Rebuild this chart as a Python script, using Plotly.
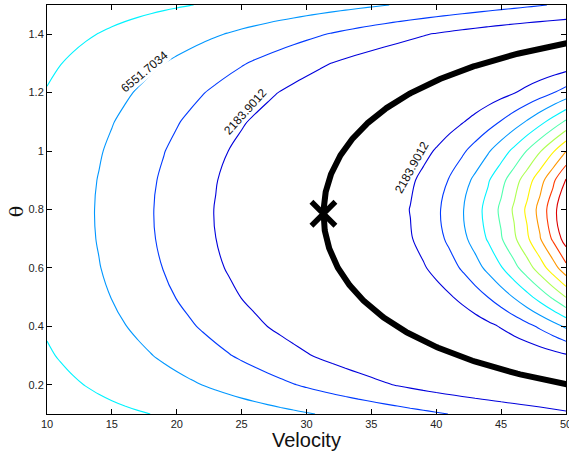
import numpy as np
import plotly.graph_objects as go

# ---- data ----
velocity = np.arange(10.0, 50.0 + 0.5, 1.0)          # grid of launch speeds
theta = np.round(np.arange(0.1, 1.5 + 0.05, 0.1), 2)  # grid of launch angles (rad)
gravity = 9.8
target_range = 100.0
level_step = 2183.90113
n_levels = 10
x_ticks = [10, 15, 20, 25, 30, 35, 40, 45, 50]
y_ticks = [0.2, 0.4, 0.6, 0.8, 1.0, 1.2, 1.4]
label_texts = ["6551.7034", "2183.9012", "2183.9012"]
label_v = [17.48, 25.26, 38.13]
label_theta = [1.271, 1.134, 0.946]
label_angle = [-40, -48, -61]

# squared range error on the grid
Z = (np.outer(np.sin(2 * theta), velocity ** 2) / gravity - target_range) ** 2

# exact solutions curve (range == target)
theta_fine = np.linspace(0.1, 1.5, 600)
v_fine = np.sqrt(target_range * gravity / np.sin(2 * theta_fine))
opt_v = np.sqrt(target_range * gravity)
opt_theta = np.pi / 4


def jet(f):
    pts = [(0, (0, 0, .5)), (.125, (0, 0, 1)), (.375, (0, 1, 1)),
           (.625, (1, 1, 0)), (.875, (1, 0, 0)), (1, (.5, 0, 0))]
    for (a, ca), (b, cb) in zip(pts[:-1], pts[1:]):
        if a <= f <= b:
            t = (f - a) / (b - a)
            c = [ca[i] + t * (cb[i] - ca[i]) for i in range(3)]
            return "rgb(%d,%d,%d)" % tuple(round(255 * x) for x in c)
    return "rgb(128,0,0)"


cscale = [[(k - 1) / (n_levels - 1), jet(k / (n_levels + 1))] for k in range(1, n_levels + 1)]

fig = go.Figure()
fig.add_trace(go.Contour(
    x=velocity, y=theta, z=Z,
    contours=dict(start=level_step, end=level_step * n_levels, size=level_step,
                  coloring="lines", showlabels=False),
    line=dict(width=1.1),
    colorscale=cscale, showscale=False, hoverinfo="skip",
))
fig.add_trace(go.Scatter(x=v_fine, y=theta_fine, mode="lines",
                         line=dict(color="black", width=6), hoverinfo="skip"))
fig.add_trace(go.Scatter(x=[opt_v], y=[opt_theta], mode="markers",
                         marker=dict(symbol="x-thin", size=24, color="black",
                                     line=dict(color="black", width=5.5))))

for t, v, th, a in zip(label_texts, label_v, label_theta, label_angle):
    fig.add_annotation(x=v, y=th, text=t, showarrow=False, textangle=a,
                       font=dict(family="Liberation Sans, Arial", size=12, color="#111"),
                       bgcolor="white", borderpad=0)

fig.add_annotation(x=0.5, y=-0.033, xref="paper", yref="paper", text="Velocity",
                   showarrow=False, yanchor="top",
                   font=dict(family="Liberation Sans, Arial", size=20, color="#111"))
fig.add_annotation(x=-0.084, y=0.494, xref="paper", yref="paper", text="θ",
                   showarrow=False, textangle=-90,
                   font=dict(family="DejaVu Serif, Liberation Serif", size=19, color="#111"))

axis_common = dict(showgrid=False, zeroline=False, showline=True, linecolor="black",
                   linewidth=1, mirror="ticks", ticks="inside", ticklen=5,
                   tickcolor="black", tickwidth=1, automargin=False,
                   ticklabeloverflow="allow",
                   tickfont=dict(family="Liberation Sans, Arial", size=11, color="#222"))
fig.update_xaxes(range=[10, 50], tickvals=x_ticks, ticktext=[str(v) for v in x_ticks],
                 **axis_common)
fig.update_yaxes(range=[0.1, 1.5], tickvals=y_ticks,
                 ticktext=["0.2", "0.4", "0.6", "0.8", "1", "1.2", "1.4"], **axis_common)
fig.update_layout(width=569, height=452, margin=dict(l=47, r=3, t=5, b=38),
                  plot_bgcolor="white", paper_bgcolor="white", showlegend=False)
fig.write_html("out.html", config={"displayModeBar": False},
               post_script="document.body.style.margin='0px';document.body.style.padding='0px';")
